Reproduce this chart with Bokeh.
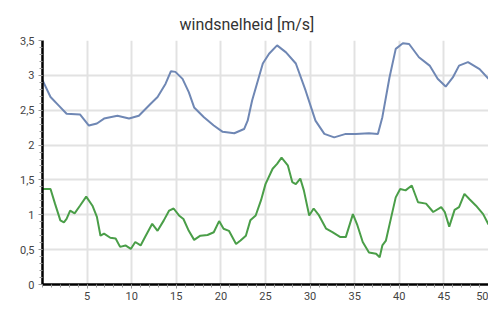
from bokeh.plotting import figure
from bokeh.models import Range1d, FixedTicker
from bokeh.embed import file_html
from bokeh.resources import INLINE

title_text = "windsnelheid [m/s]"

x_ticks = [5, 10, 15, 20, 25, 30, 35, 40, 45, 50]
x_tick_labels = ["5", "10", "15", "20", "25", "30", "35", "40", "45", "50"]
x_minor = list(range(0, 51))
y_ticks = [0, 0.5, 1, 1.5, 2, 2.5, 3, 3.5]
y_tick_labels = ["0", "0,5", "1", "1,5", "2", "2,5", "3", "3,5"]
y_minor = [round(i * 0.1, 1) for i in range(36)]

blue_x = [0, 0.9, 1.8, 2.7, 4.2, 5.2, 6.1, 6.9, 8.4, 9.7, 10.8, 12.1, 12.9, 13.8,
          14.4, 14.9, 15.7, 16.4, 17.0, 18.1, 19.2, 20.2, 21.5, 22.6, 23.0, 23.5,
          24.7, 25.4, 26.3, 27.3, 28.4, 29.5, 30.6, 31.6, 32.7, 34.0, 35.1, 36.6,
          37.6, 38.1, 38.9, 39.6, 40.4, 41.1, 42.2, 43.4, 44.3, 45.2, 46.0, 46.7,
          47.7, 49.0, 50]
blue_y = [2.93, 2.69, 2.57, 2.45, 2.44, 2.28, 2.31, 2.38, 2.42, 2.38, 2.42, 2.59,
          2.69, 2.88, 3.06, 3.05, 2.95, 2.76, 2.54, 2.40, 2.28, 2.19, 2.17, 2.23,
          2.35, 2.64, 3.17, 3.31, 3.43, 3.33, 3.17, 2.78, 2.35, 2.16, 2.11, 2.16,
          2.16, 2.17, 2.16, 2.40, 2.97, 3.38, 3.46, 3.45, 3.26, 3.14, 2.95, 2.84,
          2.97, 3.14, 3.19, 3.09, 2.95]

green_x = [0, 0.9, 1.4, 2.0, 2.4, 2.7, 3.1, 3.6, 4.2, 4.9, 5.6, 6.1, 6.5, 6.9,
           7.6, 8.2, 8.7, 9.3, 9.9, 10.4, 11.0, 11.5, 12.3, 12.9, 13.6, 14.2,
           14.7, 15.3, 15.8, 16.4, 17.0, 17.7, 18.5, 19.2, 19.8, 20.3, 20.9,
           21.7, 22.2, 22.8, 23.3, 23.9, 24.5, 25.0, 25.8, 26.3, 26.8, 27.5,
           28.0, 28.4, 28.9, 29.3, 29.9, 30.4, 31.0, 31.8, 32.5, 33.4, 34.0,
           34.8, 35.3, 35.9, 36.6, 37.4, 37.8, 38.1, 38.5, 39.1, 39.6, 40.1,
           40.7, 41.4, 42.1, 43.0, 43.8, 44.7, 45.1, 45.6, 46.2, 46.7, 47.3,
           47.9, 48.6, 49.4, 50]
green_y = [1.37, 1.37, 1.16, 0.92, 0.89, 0.94, 1.06, 1.02, 1.13, 1.26, 1.13, 0.97,
           0.70, 0.73, 0.67, 0.66, 0.54, 0.56, 0.51, 0.61, 0.56, 0.68, 0.87, 0.77,
           0.92, 1.06, 1.09, 0.99, 0.94, 0.77, 0.64, 0.70, 0.71, 0.75, 0.91, 0.80,
           0.77, 0.58, 0.63, 0.70, 0.92, 0.99, 1.21, 1.44, 1.66, 1.73, 1.82, 1.71,
           1.47, 1.44, 1.52, 1.35, 0.99, 1.09, 0.99, 0.80, 0.75, 0.68, 0.68, 1.01,
           0.85, 0.61, 0.46, 0.44, 0.39, 0.56, 0.63, 0.97, 1.25, 1.37, 1.35, 1.42,
           1.18, 1.16, 1.04, 1.11, 1.04, 0.83, 1.07, 1.11, 1.30, 1.22, 1.13, 1.01,
           0.86]

p = figure(width=488, height=306, output_backend="svg", toolbar_location=None,
           x_range=Range1d(0, 50), y_range=Range1d(0, 3.5),
           min_border_left=42, min_border_right=0, min_border_top=40,
           min_border_bottom=22)
p.outline_line_color = None
p.background_fill_color = "white"
p.border_fill_color = "white"

p.title.text = title_text
p.title.align = "left"
p.title.offset = 137
p.title.text_font = "Roboto"
p.title.text_font_size = "16px"
p.title.text_font_style = "normal"
p.title.text_color = "#333333"
p.title.standoff = 13

for ax in (p.xaxis[0], p.yaxis[0]):
    ax.axis_line_color = "black"
    ax.axis_line_width = 2.5
    ax.major_tick_in = 0
    ax.major_tick_out = 4
    ax.minor_tick_in = 0
    ax.minor_tick_out = 3
    ax.major_tick_line_color = "#999999"
    ax.minor_tick_line_color = "#999999"
    ax.major_label_text_font = "Roboto"
    ax.major_label_text_font_size = "11px"
    ax.major_label_text_color = "#444444"

p.xaxis[0].ticker = FixedTicker(ticks=x_ticks, minor_ticks=x_minor)
p.xaxis[0].major_label_overrides = {t: l for t, l in zip(x_ticks, x_tick_labels)}
p.xaxis[0].major_label_standoff = 3
p.yaxis[0].ticker = FixedTicker(ticks=y_ticks, minor_ticks=y_minor)
p.yaxis[0].major_label_overrides = {t: l for t, l in zip(y_ticks, y_tick_labels)}
p.yaxis[0].major_label_standoff = 4

p.xgrid.ticker = FixedTicker(ticks=x_ticks)
p.ygrid.ticker = FixedTicker(ticks=y_ticks[1:])
for g in (p.xgrid[0], p.ygrid[0]):
    g.grid_line_color = "#e2e2e2"
    g.grid_line_width = 2

p.line(blue_x, blue_y, line_color="#6f87b4", line_width=2)
p.line(green_x, green_y, line_color="#4a9e48", line_width=2)

open("out.html", "w").write(file_html(p, INLINE))
